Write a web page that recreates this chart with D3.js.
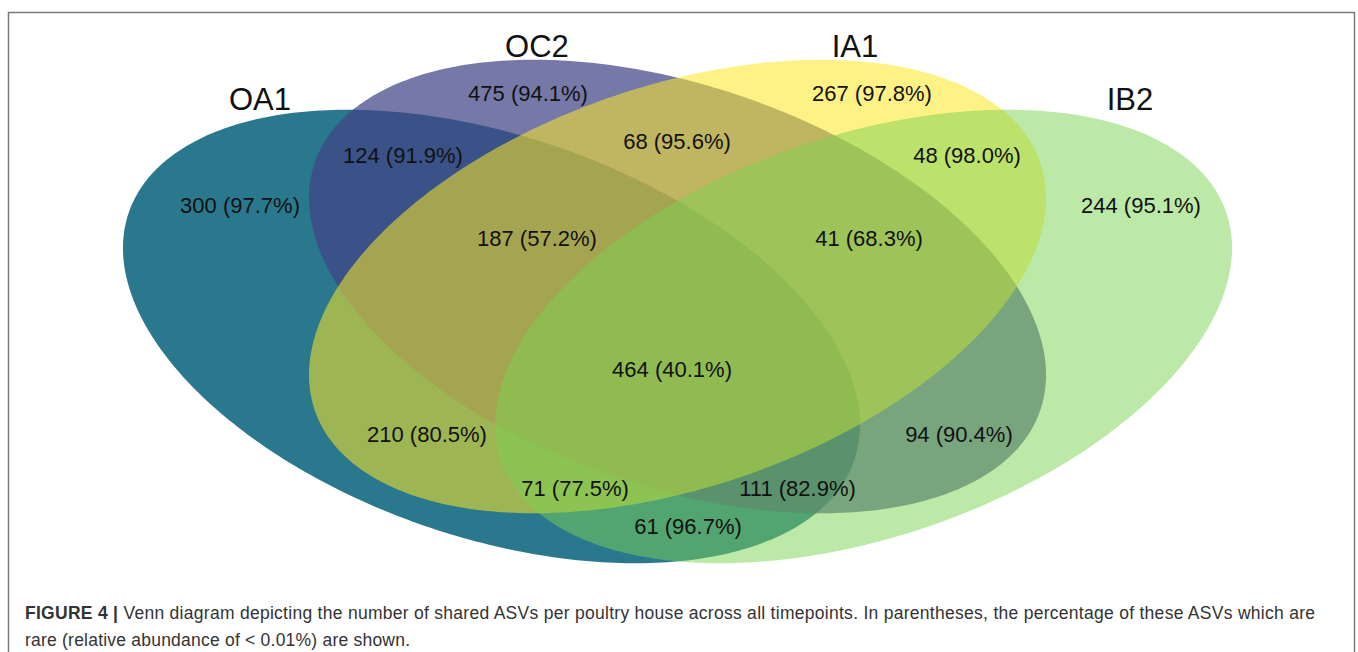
<!DOCTYPE html>
<html>
<head>
<meta charset="utf-8">
<script src="https://cdn.jsdelivr.net/npm/d3@7"></script>
<style>
  body { margin: 0; background: #fff; }
  svg { display: block; }
</style>
</head>
<body>
<svg id="chart" width="1358" height="652"></svg>
<script>
// sets and the counts of shared ASVs per region (with % rare)
const sets = ["OA1", "OC2", "IA1", "IB2"];
const setColors = ["#2A788E", "#414487", "#FDE725", "#7AD151"];
const setAlpha = [1, 0.72, 0.55, 0.5];

const regionSets = [
  ["OA1"], ["OC2"], ["IA1"], ["IB2"],
  ["OA1", "OC2"], ["OC2", "IA1"], ["IA1", "IB2"],
  ["OA1", "OC2", "IA1"], ["OC2", "IA1", "IB2"],
  ["OA1", "OC2", "IA1", "IB2"],
  ["OA1", "IA1"], ["OC2", "IB2"],
  ["OA1", "IA1", "IB2"], ["OA1", "OC2", "IB2"],
  ["OA1", "IB2"]
];
const regionCounts = [300, 475, 267, 244, 124, 68, 48, 187, 41, 464, 210, 94, 71, 111, 61];
const regionRare = [97.7, 94.1, 97.8, 95.1, 91.9, 95.6, 98.0, 57.2, 68.3, 40.1, 80.5, 90.4, 77.5, 82.9, 96.7];

const caption1 = "Venn diagram depicting the number of shared ASVs per poultry house across all timepoints. In parentheses, the percentage of these ASVs which are";
const caption2 = "rare (relative abundance of < 0.01%) are shown.";

// layout (unit space, y up) -- four rotated ellipses like VennDiagram's quad layout
const ellA = 0.3342, ellB = 0.2214;
const ellipses = {
  OA1: { cx: 0.3569, cy: 0.4544, rot: -45 },
  OC2: { cx: 0.5,    cy: 0.5169, rot: -45 },
  IA1: { cx: 0.5,    cy: 0.5169, rot: 45 },
  IB2: { cx: 0.6431, cy: 0.4544, rot: 45 }
};
const setLabelPos = {
  OA1: [0.1788, 0.7375], OC2: [0.3919, 0.8038],
  IA1: [0.6365, 0.8038], IB2: [0.8480, 0.7375]
};
const regionLabelPos = [
  [0.1635, 0.6188], [0.3850, 0.7588], [0.6496, 0.7588], [0.8565, 0.6188],
  [0.2888, 0.6813], [0.4996, 0.6988], [0.7227, 0.6813],
  [0.3919, 0.5775], [0.6473, 0.5775],
  [0.4958, 0.4138],
  [0.3073, 0.3325], [0.7165, 0.3325],
  [0.4212, 0.2650], [0.5923, 0.2650],
  [0.5081, 0.2175]
];

const W = 1358, H = 652;
const svg = d3.select("#chart");
const x = d3.scaleLinear().domain([0, 1]).range([27.5, 1327.5]);
const y = d3.scaleLinear().domain([0, 1]).range([700, -100]);

// frame
svg.append("rect")
  .attr("x", 8.5).attr("y", 12.5)
  .attr("width", 1346).attr("height", 720)
  .attr("fill", "none").attr("stroke", "#7a7a7a").attr("stroke-width", 1.5);

function ellipsePts(e) {
  const th = e.rot * Math.PI / 180;
  return d3.range(0, 360, 1).map(d => {
    const t = d * Math.PI / 180;
    const ex = ellA * Math.cos(t), ey = ellB * Math.sin(t);
    return [e.cx + ex * Math.cos(th) - ey * Math.sin(th),
            e.cy + ex * Math.sin(th) + ey * Math.cos(th)];
  });
}

const line = d3.line().x(d => x(d[0])).y(d => y(d[1])).curve(d3.curveLinearClosed);

svg.append("g").selectAll("path").data(sets).join("path")
  .attr("d", s => line(ellipsePts(ellipses[s])))
  .attr("fill", (s, i) => setColors[i])
  .attr("fill-opacity", (s, i) => setAlpha[i]);

const font = "'Liberation Sans', Arial, Helvetica, sans-serif";

// set names
svg.append("g").selectAll("text").data(sets).join("text")
  .attr("x", s => x(setLabelPos[s][0]))
  .attr("y", s => y(setLabelPos[s][1]))
  .attr("text-anchor", "middle")
  .style("font-family", font).style("font-size", "31px").style("fill", "#111")
  .text(s => s);

// region counts
svg.append("g").selectAll("text").data(regionCounts).join("text")
  .attr("x", (d, i) => x(regionLabelPos[i][0]))
  .attr("y", (d, i) => y(regionLabelPos[i][1]))
  .attr("dy", "0.36em")
  .attr("text-anchor", "middle")
  .style("font-family", font).style("font-size", "22px").style("fill", "#111")
  .text((d, i) => `${d} (${regionRare[i].toFixed(1)}%)`);

// caption
const cap = svg.append("text")
  .attr("x", 25).attr("y", 619)
  .style("font-family", font).style("font-size", "17.5px").style("fill", "#333");
cap.append("tspan").style("font-weight", "bold").text("FIGURE 4 | ");
cap.append("tspan").text(caption1);
cap.attr("textLength", 1290).attr("lengthAdjust", "spacing");

svg.append("text")
  .attr("x", 25).attr("y", 646)
  .attr("textLength", 385).attr("lengthAdjust", "spacing")
  .style("font-family", font).style("font-size", "17.5px").style("fill", "#333")
  .text(caption2);
</script>
</body>
</html>
